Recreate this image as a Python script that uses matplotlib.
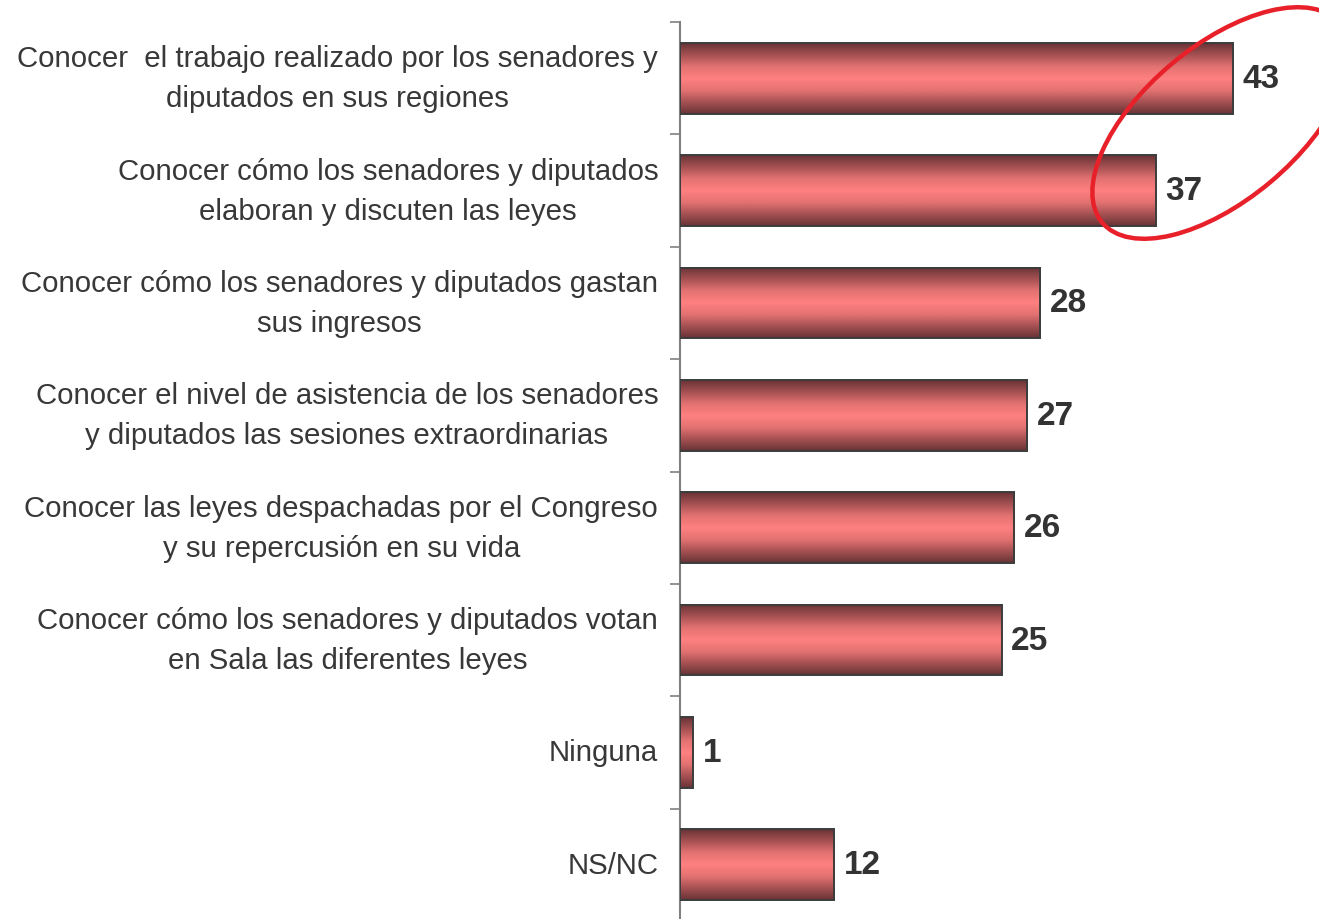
import matplotlib.pyplot as plt
import numpy as np
from matplotlib.colors import LinearSegmentedColormap
from matplotlib.patches import Rectangle, Ellipse

plt.rcParams['font.family'] = ['Liberation Sans', 'DejaVu Sans']

labels = [
    "Conocer  el trabajo realizado por los senadores y\ndiputados en sus regiones",
    "Conocer cómo los senadores y diputados\nelaboran y discuten las leyes",
    "Conocer cómo los senadores y diputados gastan\nsus ingresos",
    "Conocer el nivel de asistencia de los senadores\ny diputados las sesiones extraordinarias",
    "Conocer las leyes despachadas por el Congreso\ny su repercusión en su vida",
    "Conocer cómo los senadores y diputados votan\nen Sala las diferentes leyes",
    "Ninguna",
    "NS/NC",
]
values = [43, 37, 28, 27, 26, 25, 1, 12]

W, H = 1319, 920
fig = plt.figure(figsize=(W / 100, H / 100), dpi=100)
ax = fig.add_axes([680 / W, -2 / H, 643 / W, 899 / H])

# vertical shading: dark at the edges, light pink in the middle
shade = LinearSegmentedColormap.from_list(
    "bar", ["#6a3436", "#a85254", "#e47272", "#ff8080", "#e47272", "#a85254", "#6a3436"])
t = np.linspace(0, 1, 64).reshape(-1, 1)

bar_h = 0.63
y = np.arange(len(values))
for yi, v in zip(y, values):
    ax.imshow(t, cmap=shade, aspect="auto", interpolation="bilinear",
              extent=[0, v, yi + bar_h / 2, yi - bar_h / 2], zorder=2)
    ax.add_patch(Rectangle((0, yi - bar_h / 2), v, bar_h, fill=False,
                           edgecolor="#3c3c3c", lw=1.4, zorder=3))
    ax.text(v + 0.75, yi, str(v), ha="left", va="center", fontsize=24,
            fontweight="bold", color="#333333")

ax.set_xlim(0, 50)
ax.set_ylim(len(values) - 0.5, -0.5)
ax.set_yticks(np.arange(len(values) + 1) - 0.5)
ax.set_yticklabels([])
ax.tick_params(axis="y", length=7, width=1.2, color="#808080", direction="out")
ax.set_xticks([])
for s in ("top", "right", "bottom"):
    ax.spines[s].set_visible(False)
ax.spines["left"].set_color("#808080")
ax.spines["left"].set_linewidth(1.5)
ax.patch.set_alpha(0)

for yi, lab in zip(y, labels):
    ax.text(-0.034, yi, lab, transform=ax.get_yaxis_transform(), ha="right",
            va="center", multialignment="center", fontsize=21.2,
            color="#383838", linespacing=1.55)

# highlight the two top answers
ring = Ellipse((12.21, (H - 124) / 100), 3.1, 1.54, angle=40,
               transform=fig.dpi_scale_trans, fill=False,
               edgecolor="#e8202a", lw=3.2, zorder=10)
fig.add_artist(ring)

fig.savefig("out.png", dpi=100)
